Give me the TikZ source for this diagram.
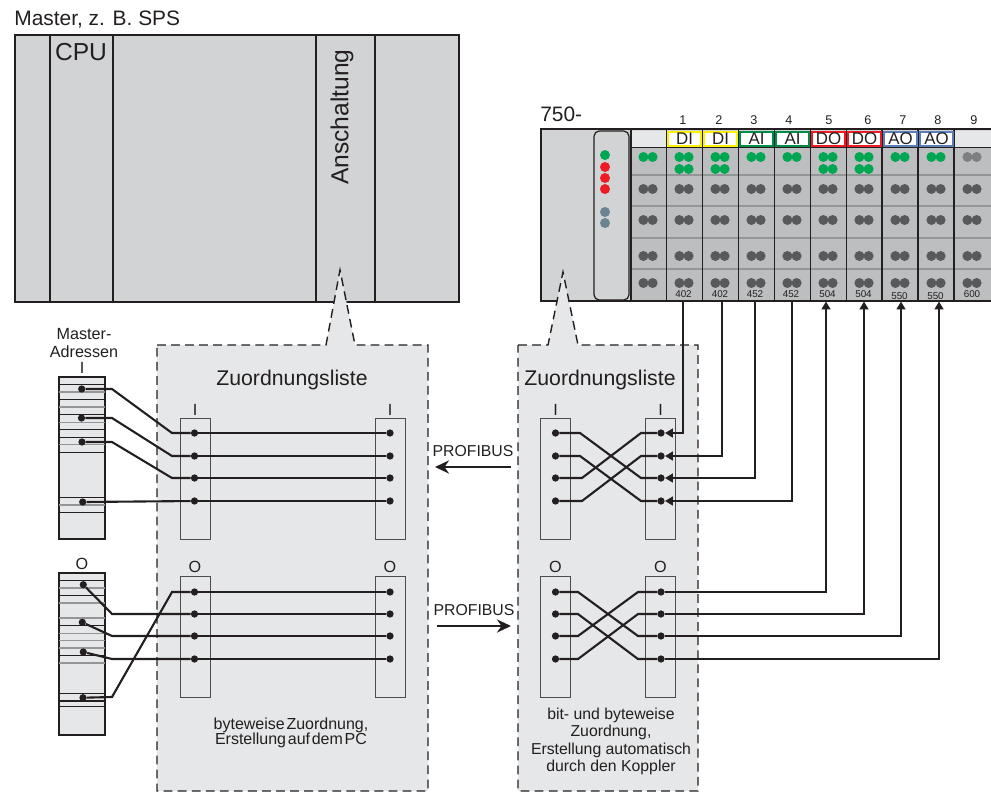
\documentclass[tikz,border=0pt]{standalone}
\usepackage{fontspec}
\setmainfont{Liberation Sans}
\usetikzlibrary{arrows.meta,positioning}
\definecolor{ink}{HTML}{231F20}
\definecolor{housing}{HTML}{D1D3D4}
\definecolor{module}{HTML}{BCBEC0}
\definecolor{listfill}{HTML}{E6E7E8}
\definecolor{pingrey}{HTML}{58595B}
\definecolor{sepline}{HTML}{939598}
\definecolor{ledgreen}{HTML}{00A651}
\definecolor{ledred}{HTML}{ED1C24}
\definecolor{ledslate}{HTML}{6A8490}
\definecolor{sigyellow}{HTML}{FFF200}
\definecolor{siggreen}{HTML}{008C4A}
\definecolor{sigblue}{HTML}{5B7DB8}
\newcommand{\fs}[1]{\fontsize{#1}{#1}\selectfont}

\begin{document}
\begin{tikzpicture}[
  x=0.02cm, y=-0.02cm,
  case/.style={draw=ink, line width=1.1pt, fill=housing},
  part/.style={draw=ink, line width=1.1pt},
  list/.style={draw=ink, fill=listfill, line width=0.8pt, dash pattern=on 5pt off 3pt},
  slot/.style={draw=ink!80, line width=0.55pt, minimum width=0.6cm, minimum height=2.42cm, inner sep=0},
  dot/.style={circle, fill=ink, inner sep=0, minimum size=0.145cm},
  wire/.style={draw=ink, line width=1.2pt},
  wirein/.style={wire, -{Triangle[length=4.5pt,width=5pt]}},
  busarr/.style={draw=ink, line width=1.2pt, -{Stealth[length=8pt,width=7.5pt]}},
  big/.style={font=\fs{14}, text=ink, inner sep=0},
  head/.style={font=\fs{12.1}, text=ink, inner sep=0},
  tag/.style={font=\fs{9.2}, text=ink, inner sep=0},
  note/.style={text=ink, inner sep=0, align=center},
  sig/.style={font=\fs{9.6}, text=ink, fill=white, line width=1.1pt, minimum width=0.66cm, minimum height=0.29cm, inner sep=0}
]
  \useasboundingbox (0,0) rectangle (991,792);

  % master
  \node[font=\fs{11.9}, text=ink, inner sep=0, anchor=west] (mastertitle) at (14,20) {Master, z. B. SPS};
  \draw[case] (15,35) rectangle (459,302);
  \foreach \x in {50,113,316,375}
    \draw[part] (\x,35) -- (\x,302);
  \node[big] (cpu) at (81,52) {CPU};
  \node[big, rotate=90] (anschaltung) at (342,117) {Anschaltung};

  % coupler
  \node[font=\fs{11.9}, text=ink, inner sep=0, anchor=west] (series) at (540,114) {750-};
  \draw[case] (541,129) rectangle (991.5,301);
  \draw[draw=ink, line width=0.7pt, rounded corners=3pt] (594,131) rectangle (629,300);
  \fill[module] (631,148) rectangle (990.5,300);
  \fill[listfill] (632,131) rectangle (990.5,147);
  \foreach \y in {206,238,269}
    \draw[sepline, line width=0.6pt] (631,\y) -- (991,\y);
  \draw[sepline, line width=0.9pt] (631,175) -- (991,175);
  \draw[part] (631,147.5) -- (991,147.5);
  \foreach \x in {631,666.5,702.5,738.5,774.5,810.5,846.5,882,918,954}
    \draw[part] (\x,129) -- (\x,301);

  % leds on the coupler
  \foreach \c/\y in {ledgreen/155,ledred/167,ledred/178,ledred/189,ledslate/212,ledslate/223}
    \fill[\c] (605,\y) circle (5);

  % headers of the modules
  \foreach \n/\cx/\lab/\c in {1/684.5/DI/sigyellow,2/720.5/DI/sigyellow,3/756.5/AI/siggreen,4/792.5/AI/siggreen,
                              5/828.5/DO/ledred,6/864.5/DO/ledred,7/900.5/AO/sigblue,8/936.5/AO/sigblue}
    \node[sig, draw=\c] (head\n) at (\cx,139) {\lab};
  \foreach \n/\x in {1/683,2/719,3/754,4/789,5/829,6/868,7/903,8/938,9/974}
    \node[font=\fs{7.2}, text=ink, inner sep=0] (num\n) at (\x,120) {\n};
  \foreach \n/\x/\y/\lab in {1/683.5/294/402,2/720/294/402,3/755/294/452,4/791/294/452,5/827.5/294/504,
                             6/863.5/294/504,7/899.5/296/550,8/935.5/296/550,9/972/294/600}
    \node[font=\fs{5.6}, text=ink, inner sep=0] (type\n) at (\x,\y) {\lab};

  % contact points
  \foreach \cx in {648,684,720,756,792,828,864,900,936,972}
    \foreach \y in {189,220,256,283} {
      \fill[pingrey] (\cx-4.6,\y) circle (5);
      \fill[pingrey] (\cx+4.6,\y) circle (5);
    };
  \foreach \cx in {648,684,720,756,792,828,864,900,936} {
    \fill[ledgreen] (\cx-4.6,157) circle (5);
    \fill[ledgreen] (\cx+4.6,157) circle (5);
  }
  \foreach \cx in {684,720,828,864} {
    \fill[ledgreen] (\cx-4.6,169) circle (5);
    \fill[ledgreen] (\cx+4.6,169) circle (5);
  }
  \fill[sepline!85!black] (967.4,157) circle (5);
  \fill[sepline!85!black] (976.6,157) circle (5);

  % free ends at the modules
  \foreach \n/\x in {1/683,2/722,3/755,4/792,5/826,6/864,7/901,8/939}
    \coordinate (m\n) at (\x,301.5);

  % lists
  \draw[list] (157,345) -- (326,345) -- (340,270) -- (355,345) -- (428,345) -- (428,791) -- (157,791) -- cycle;
  \draw[list] (518,345) -- (548,345) -- (563,272) -- (578,345) -- (698,345) -- (698,791) -- (518,791) -- cycle;
  \node[head] (titleleft) at (292,380) {Zuordnungsliste};
  \node[head] (titleright) at (600,380) {Zuordnungsliste};

  \node[slot] (slotla) at (195,478.5) {};
  \node[slot] (slotlb) at (390,478.5) {};
  \node[slot] (slotlc) at (195,636.5) {};
  \node[slot] (slotld) at (390,636.5) {};
  \node[slot] (slotra) at (555.5,478.5) {};
  \node[slot] (slotrb) at (660.5,478.5) {};
  \node[slot] (slotrc) at (555.5,636.5) {};
  \node[slot] (slotrd) at (660.5,636.5) {};
  \foreach \s in {la,lb,ra,rb}
    \node[tag, above=1pt of slot\s] (lab\s) {I};
  \foreach \s in {lc,ld,rc,rd}
    \node[tag, above=1.2pt of slot\s] (lab\s) {O};

  % master addresses
  \draw[draw=ink, line width=0.7pt, fill=listfill] (59,377) rectangle (105,539);
  \draw[draw=ink, line width=0.7pt, fill=listfill] (59,573) rectangle (105,735);
  \foreach \y in {384.3,399.3,414.7,429.7,437.3,452.3,497.3,512.7}
    \draw[ink, line width=0.6pt] (59,\y) -- (105,\y);
  \foreach \y in {392,407,422.3,444.7,505}
    \draw[sepline, line width=0.7pt] (59,\y) -- (105,\y);
  \foreach \y in {580.3,595.3,625.7,655.7,693.3,706.3}
    \draw[ink, line width=0.6pt] (59,\y) -- (105,\y);
  \foreach \y in {588,603,618,633.3,640.7,648,663}
    \draw[sepline, line width=0.7pt] (59,\y) -- (105,\y);
  \draw[ink, line width=1.1pt] (59,700.7) -- (105,700.7);
  \node[tag, align=center, font=\fontsize{9.2}{9.8}\selectfont] (addrtitle) at (84,343) {Master-\\Adressen};
  \node[tag] (addri) at (82,368) {I};
  \node[tag] (addro) at (82,564) {O};

  % dots
  \foreach \n/\x/\y in {1/81.7/389,2/81.5/418,3/82/442,4/82.7/502}
    \node[dot] (ma\n) at (\x,\y) {};
  \foreach \n/\x/\y in {1/83.3/584.7,2/82.3/622.3,3/83.3/652,4/83/697.7}
    \node[dot] (mo\n) at (\x,\y) {};
  \foreach \n/\y in {1/433,2/456,3/478,4/501} {
    \node[dot] (la\n) at (194.5,\y) {};
    \node[dot] (lb\n) at (390,\y) {};
    \node[dot] (ra\n) at (555.5,\y) {};
    \node[dot] (rb\n) at (661,\y) {};
  }
  \foreach \n/\y in {1/592,2/614,3/636,4/659} {
    \node[dot] (lc\n) at (194.5,\y) {};
    \node[dot] (ld\n) at (390,\y) {};
    \node[dot] (rc\n) at (555.5,\y) {};
    \node[dot] (rd\n) at (661,\y) {};
  }

  % master to left list
  \draw[wire] (ma1) -- (112,389) -- (172,433) -- (la1);
  \draw[wire] (ma2) -- (112,418) -- (172,456) -- (la2);
  \draw[wire] (ma3) -- (112,442) -- (172,478) -- (la3);
  \draw[wire] (ma4) -- (la4);
  \draw[wire] (mo1) -- (112,614) -- (lc2);
  \draw[wire] (mo2) -- (112,636) -- (lc3);
  \draw[wire] (mo3) -- (112,659) -- (lc4);
  \draw[wire] (mo4) -- (112,697) -- (172,592) -- (lc1);
  \foreach \n in {1,2,3,4} {
    \draw[wire] (la\n) -- (lb\n);
    \draw[wire] (lc\n) -- (ld\n);
  }

  % right list
  \draw[wire] (ra1) -- (580,433) -- (641,478) -- (rb3);
  \draw[wire] (ra2) -- (580,456) -- (641,501) -- (rb4);
  \draw[wire] (ra3) -- (582,478) -- (641,433) -- (rb1);
  \draw[wire] (ra4) -- (582,501) -- (641,456) -- (rb2);
  \draw[wire] (rc1) -- (578,592) -- (638,636) -- (rd3);
  \draw[wire] (rc2) -- (578,614) -- (638,659) -- (rd4);
  \draw[wire] (rc3) -- (578,636) -- (638,592) -- (rd1);
  \draw[wire] (rc4) -- (578,659) -- (638,614) -- (rd2);

  % modules
  \draw[wirein] (m1) |- (rb1);
  \draw[wirein] (m2) |- (rb2);
  \draw[wirein] (m3) |- (rb3);
  \draw[wirein] (m4) |- (rb4);
  \draw[wirein] (rd1) -| (m5);
  \draw[wirein] (rd2) -| (m6);
  \draw[wirein] (rd3) -| (m7);
  \draw[wirein] (rd4) -| (m8);

  % profibus
  \node[tag, font=\fs{9}] (busup) at (473,451.5) {PROFIBUS};
  \node[tag, font=\fs{9}] (busdown) at (474,610.5) {PROFIBUS};
  \coordinate (busupa) at (511,467);
  \coordinate (busupb) at (435,467);
  \coordinate (busdowna) at (437,626);
  \coordinate (busdownb) at (511,626);
  \draw[busarr] (busupa) -- (busupb);
  \draw[busarr] (busdowna) -- (busdownb);

  % notes
  \node[note, font=\fs{9.1}] (noteleft) at (291,733) {byteweise\hspace{1pt}Zuordnung,\\[-0.9pt]Erstellung\hspace{1pt}auf\hspace{1pt}dem\hspace{1pt}PC};
  \node[note, font=\fontsize{9}{9.9}\selectfont] (noteright) at (611,741.5) {bit- und byteweise\\Zuordnung,\\Erstellung automatisch\\durch den Koppler};
\end{tikzpicture}
\end{document}
